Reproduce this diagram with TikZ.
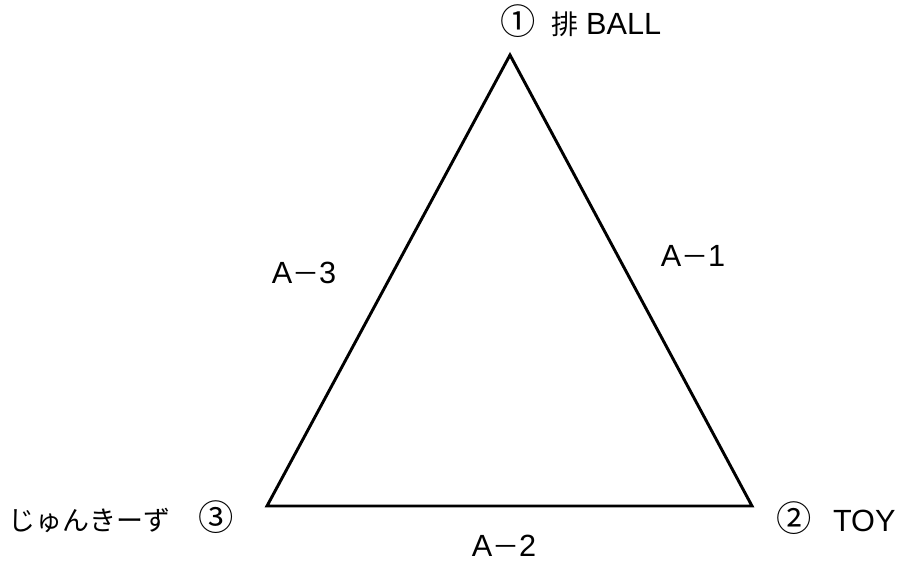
\documentclass[tikz,border=0pt]{standalone}
\usepackage{fontspec}
\setmainfont{Liberation Sans}
\newfontfamily\jp[Scale=0.88]{Noto Sans CJK JP}
\newfontfamily\circled[Scale=1.15]{Noto Sans CJK JP}
\begin{document}
\begin{tikzpicture}[x=0.75pt, y=-0.75pt, line join=miter, font=\fontsize{23pt}{27pt}\selectfont]
				\useasboundingbox (0,0) rectangle (904,562);
				\coordinate (T) at (510,55);
				\coordinate (L) at (267,506);
				\coordinate (R) at (752,506);
				\draw[line width=2.2pt] (T) -- (R) -- (L) -- cycle;
				\node[inner sep=0pt] (top) at (581,21) {{\circled ①}\hspace{0.5em}{\jp 排}\hspace{0.25em}BALL};
				\node[inner sep=0pt, anchor=west] (right) at (776,518) {{\circled ②}\hspace{0.7em}TOY};
				\node[inner sep=0pt, anchor=east] (left) at (234,517) {{\jp じゅんきーず}\hspace{0.9em}{\circled ③}};
				\node[inner sep=0pt] (s1) at (693,256) {A{\jp －}1};
				\node[inner sep=0pt] (s2) at (504,546) {A{\jp －}2};
				\node[inner sep=0pt] (s3) at (304,273) {A{\jp －}3};
			\end{tikzpicture}
\end{document}
